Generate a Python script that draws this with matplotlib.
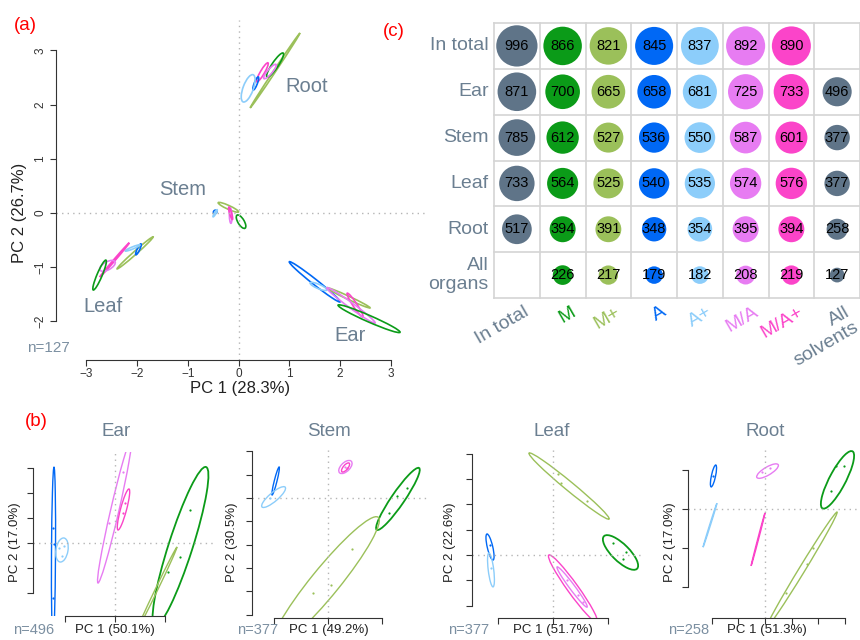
import numpy as np
import matplotlib.pyplot as plt
from matplotlib.patches import Ellipse

plt.rcParams['font.family'] = ['Liberation Sans', 'DejaVu Sans']

W, H = 860, 640

solvents = ["M", "M+", "A", "A+", "M/A", "M/A+"]
colors = {"M": "#0b9b18", "M+": "#9bc05a", "A": "#0068f5", "A+": "#8ccdfa",
          "M/A": "#e77cf2", "M/A+": "#fb44c9", "all": "#5f7488"}
label_gray = "#6b7f91"

# ---- panel (a): ellipse axis ends (x1, y1, x2, y2) and minor width, PC units
organ_ellipses_a = {
    "Root": [("M+", 0.23, 1.94, 1.21, 3.32, 0.04), ("M", 0.56, 2.51, 0.88, 2.95, 0.12),
             ("M/A+", 0.36, 2.42, 0.58, 2.77, 0.08), ("M/A", 0.50, 2.48, 0.74, 2.74, 0.09),
             ("A", 0.29, 2.27, 0.39, 2.51, 0.06), ("A+", 0.09, 2.05, 0.29, 2.55, 0.20)],
    "Stem": [("M+", -0.40, 0.19, 0.00, 0.02, 0.07), ("M", -0.03, -0.04, 0.13, -0.28, 0.12),
             ("M/A", -0.16, 0.09, -0.15, -0.19, 0.05), ("M/A+", -0.19, 0.11, -0.12, -0.12, 0.04),
             ("A", -0.49, 0.00, -0.43, 0.04, 0.06), ("A+", -0.50, -0.07, -0.42, 0.06, 0.03)],
    "Leaf": [("M+", -2.39, -1.03, -1.68, -0.44, 0.06), ("A", -2.02, -0.77, -1.92, -0.57, 0.05),
             ("A+", -2.23, -0.70, -1.94, -0.59, 0.04), ("M/A+", -2.73, -1.18, -2.15, -0.55, 0.03),
             ("M/A", -2.73, -1.05, -2.43, -0.90, 0.15), ("M", -2.86, -1.42, -2.61, -0.87, 0.10)],
    "Ear": [("A", 1.00, -0.90, 2.00, -1.64, 0.10), ("A+", 1.41, -1.29, 1.74, -1.42, 0.08),
            ("M+", 1.74, -1.38, 2.59, -1.75, 0.06), ("M/A+", 2.14, -1.48, 2.45, -1.92, 0.08),
            ("M/A", 1.74, -1.38, 2.69, -2.03, 0.10), ("M", 1.96, -1.70, 3.18, -2.20, 0.12)],
}
organ_label_pos = {"Root": (1.35, 2.34), "Stem": (-1.1, 0.43), "Leaf": (-2.66, -1.72), "Ear": (2.19, -2.26)}

# ---- panel (b): per organ PCA of solvents
panels_b = ["Ear", "Stem", "Leaf", "Root"]
pc1_b = ["PC 1 (50.1%)", "PC 1 (49.2%)", "PC 1 (51.7%)", "PC 1 (51.3%)"]
pc2_b = ["PC 2 (17.0%)", "PC 2 (30.5%)", "PC 2 (22.6%)", "PC 2 (17.0%)"]
n_b = ["n=496", "n=377", "n=377", "n=258"]

ear_b = [("A", -2.48, -3.88, -2.44, 3.04, 0.16), ("A+", -2.20, -0.76, -2.04, 0.20, 0.48),
         ("M/A", -0.68, -1.60, 0.64, 4.12, 0.33), ("M/A+", 0.12, 0.52, 0.56, 2.16, 0.24),
         ("M", 1.60, -3.32, 3.64, 3.04, 0.96), ("M+", 0.88, -3.48, 2.48, -0.16, 0.10)]
ear_pts = [("A", -2.48, 0.6), ("A", -2.44, -0.04), ("A", -2.48, -2.2),
           ("A+", -2.24, -0.2), ("A+", -2.04, -0.12), ("A+", -2.12, -0.52),
           ("M/A", -0.24, 0.8), ("M/A", 0.32, 2.84), ("M/A+", 0.30, 1.2), ("M/A+", 0.40, 1.6),
           ("M", 3.0, 1.32), ("M", 2.6, -0.56), ("M", 2.12, -1.16)]
stem_b = [("A", -2.07, 0.13, -1.81, 1.33, 0.10), ("A+", -2.44, -0.39, -1.59, 0.47, 0.35),
          ("M/A", 0.44, 1.07, 0.85, 1.59, 0.35), ("M/A+", 0.52, 1.12, 0.78, 1.50, 0.18),
          ("M", 1.81, -1.37, 3.37, 1.29, 0.50), ("M+", -2.04, -6.39, 1.85, -0.82, 1.10)]
stem_pts = [("A+", -2.15, 0.0), ("M", 2.93, 0.43), ("M", 2.56, 0.09), ("M", 2.26, -0.64),
            ("M+", 0.89, -2.19), ("M+", 0.11, -3.73), ("M+", -0.56, -4.08),
            ("M/A", 0.62, 1.35), ("M/A+", 0.70, 1.30)]
leaf_b = [("M+", -0.87, 4.03, 2.04, 1.42, 0.34), ("M", 1.86, 0.75, 3.05, -0.55, 0.65),
          ("M/A+", -0.15, 0.00, 1.60, -2.65, 0.40), ("M/A", 0.15, -0.47, 1.24, -2.06, 0.20),
          ("A", -2.40, 0.83, -2.18, -0.20, 0.20), ("A+", -2.33, 0.08, -2.18, -1.26, 0.20)]
leaf_pts = [("M+", 0.18, 3.2), ("M+", 0.29, 2.85), ("M+", 1.23, 2.13),
            ("M", 2.18, 0.47), ("M", 2.65, 0.12), ("M", 2.55, -0.16),
            ("M/A", 0.5, -1.0), ("M/A", 0.9, -1.6), ("M/A", 1.1, -1.85),
            ("A", -2.3, 0.4), ("A+", -2.25, -0.5)]
root_b = [("A", -2.02, 0.57, -1.84, 1.13, 0.15), ("A+", -2.32, -0.98, -1.80, 0.15, 0.03),
          ("M/A", -0.31, 0.82, 0.50, 1.13, 0.22), ("M/A+", -0.52, -1.46, 0.00, -0.10, 0.03),
          ("M", 2.13, 0.03, 3.30, 1.47, 0.55), ("M+", 0.07, -3.03, 2.70, -0.08, 0.20)]
root_pts = [("M/A", -0.1, 0.95), ("M/A", 0.2, 1.05), ("A", -1.93, 0.85),
            ("M", 2.66, 1.11), ("M", 2.96, 1.11), ("M", 2.47, 0.46),
            ("M+", 1.8, -1.0), ("M+", 1.57, -1.41), ("M+", 0.79, -2.16)]
ellipses_b = [ear_b, stem_b, leaf_b, root_b]
points_b = [ear_pts, stem_pts, leaf_pts, root_pts]

# ---- panel (c): number of compounds
rows_c = ["In total", "Ear", "Stem", "Leaf", "Root", "All\norgans"]
cols_c = ["In total", "M", "M+", "A", "A+", "M/A", "M/A+", "All\nsolvents"]
counts = [
    [996, 866, 821, 845, 837, 892, 890, None],
    [871, 700, 665, 658, 681, 725, 733, 496],
    [785, 612, 527, 536, 550, 587, 601, 377],
    [733, 564, 525, 540, 535, 574, 576, 377],
    [517, 394, 391, 348, 354, 395, 394, 258],
    [None, 226, 217, 179, 182, 208, 219, 127],
]
col_colors = [colors["all"]] + [colors[s] for s in solvents] + [colors["all"]]
col_label_colors = [label_gray] + [colors[s] for s in solvents] + [label_gray]

fig = plt.figure(figsize=(W / 100, H / 100), dpi=100)


def axes_px(left, top, right, bottom):
    return fig.add_axes([left / W, 1 - bottom / H, (right - left) / W, (bottom - top) / H])


def text_px(x, y, s, **kw):
    fig.text(x / W, 1 - y / H, s, **kw)


def draw_ellipse(ax, name, x1, y1, x2, y2, w, lw):
    cx, cy = (x1 + x2) / 2, (y1 + y2) / 2
    length = np.hypot(x2 - x1, y2 - y1)
    ang = np.degrees(np.arctan2(y2 - y1, x2 - x1))
    ax.add_patch(Ellipse((cx, cy), length, w, angle=ang, fill=False,
                         ec=colors[name], lw=lw))


dot = dict(color="#b5b5b5", ls=(0, (1, 3)), lw=1)

# ---------------- (a)
ax = axes_px(56, 15, 410, 360)
ax.set_xlim(-3.593, 3.376)
ax.set_ylim(-2.712, 3.653)
ax.axvline(0, ymax=0.985, **dot)
ax.axhline(0, xmax=1.05, clip_on=False, **dot)
for organ, ells in organ_ellipses_a.items():
    for e in ells:
        draw_ellipse(ax, *e, lw=1.2)
    x, y = organ_label_pos[organ]
    ax.text(x, y, organ, fontsize=14.5, color=label_gray, ha="center", va="center")
for s in ["top", "right"]:
    ax.spines[s].set_visible(False)
ax.spines["left"].set_bounds(-2, 3)
ax.spines["bottom"].set_bounds(-3, 3)
for s in ["left", "bottom"]:
    ax.spines[s].set_color("#333333")
ax.set_xticks(range(-3, 4))
ax.set_yticks(range(-2, 4))
ax.tick_params(direction="out", length=4, width=0.8, labelsize=8.5, colors="#333333")
ax.tick_params(axis="x", pad=1.5)
ax.tick_params(axis="y", pad=3)
plt.setp(ax.get_yticklabels(), rotation=90, va="center")
text_px(240, 389, "PC 1 (28.3%)", fontsize=12, ha="center", va="center", color="#222222")
text_px(20, 213, "PC 2 (26.7%)", fontsize=12, ha="center", va="center", rotation=90, color="#222222")
text_px(48, 348, "n=127", fontsize=11, ha="center", va="center", color="#7b8fa1")

# ---------------- (b)
boxes = [(33, 452, 213, 616), (252, 450, 430, 618), (472, 450, 643, 618), (688, 450, 860, 618)]
xlims = [(-3.28, 3.92), (-2.815, 3.778), (-2.945, 3.273), (-2.884, 3.558)]
ylims = [(-2.92, 3.64), (-5.15, 2.06), (-2.49, 4.15), (-2.80, 1.517)]
xticks = [[-2, 0, 2], [-2, 0, 2], [-2, 0, 2], [-2, -1, 0, 1, 2, 3]]
yticks = [list(range(-2, 4)), list(range(-5, 3)), list(range(-2, 5)), list(range(-2, 2))]
title_x = [116, 329, 552, 765]
pc1_x = [115, 329, 553, 767]
n_x = [34, 258, 469, 689]
pc2_x = [15, 232, 450, 670]

for i, organ in enumerate(panels_b):
    b = axes_px(*boxes[i])
    b.set_xlim(*xlims[i])
    b.set_ylim(*ylims[i])
    b.axvline(0, **dot)
    b.axhline(0, **dot)
    for e in ellipses_b[i]:
        draw_ellipse(b, *e, lw=1.3 if e[0] == "M" else 1.0)
    for name, x, y in points_b[i]:
        b.plot(x, y, "o", ms=1.6, color=colors[name], mec="none")
    for s in ["top", "right"]:
        b.spines[s].set_visible(False)
    for s in ["left", "bottom"]:
        b.spines[s].set_color("#333333")
    b.spines["bottom"].set_bounds(xticks[i][0], xticks[i][-1])
    b.spines["left"].set_bounds(yticks[i][0], yticks[i][-1])
    b.set_xticks(xticks[i])
    b.set_yticks(yticks[i])
    b.tick_params(direction="out", length=4, width=0.8, colors="#333333",
                  labelbottom=False, labelleft=False)
    y_mid = (boxes[i][1] + boxes[i][3]) / 2
    text_px(title_x[i], 432, organ, fontsize=13.5, color=label_gray, ha="center", va="center")
    text_px(pc1_x[i], 630, pc1_b[i], fontsize=9.5, ha="center", va="center", color="#222222")
    text_px(n_x[i], 630, n_b[i], fontsize=10.5, ha="center", va="center", color="#7b8fa1")
    text_px(pc2_x[i], y_mid + 8, pc2_b[i], fontsize=9.5, ha="center", va="center",
            rotation=90, color="#222222")

# ---------------- (c)
c = axes_px(494, 23, 860, 298)
c.set_xlim(-0.5, 7.5)
c.set_ylim(5.5, -0.5)
for k in range(9):
    c.axvline(k - 0.5, color="#d4d4d4", lw=1.2, clip_on=False)
for k in range(7):
    c.axhline(k - 0.5, color="#d4d4d4", lw=1.2, clip_on=False)
for r, row in enumerate(counts):
    for j, v in enumerate(row):
        if v is None:
            continue
        c.scatter(j, r, s=v * 0.887, color=col_colors[j], edgecolors="none", clip_on=False, zorder=3)
        c.text(j, r, str(v), fontsize=10.5, ha="center", va="center", color="black", zorder=4)
for r, lab in enumerate(rows_c):
    c.text(-0.62, r, lab, fontsize=14, ha="right", va="center", color=label_gray,
           multialignment="right", linespacing=1.1)
for j, lab in enumerate(cols_c):
    c.text(j + 0.15, 5.62, lab, fontsize=14, ha="right", va="top", rotation=30,
           rotation_mode="anchor", color=col_label_colors[j], multialignment="right",
           linespacing=1.05)
c.axis("off")

# panel letters
text_px(25, 26, "(a)", fontsize=13.5, color="red", ha="center", va="center")
text_px(36, 422, "(b)", fontsize=13.5, color="red", ha="center", va="center")
text_px(394, 32, "(c)", fontsize=13.5, color="red", ha="center", va="center")

fig.savefig("out.png", dpi=100)
